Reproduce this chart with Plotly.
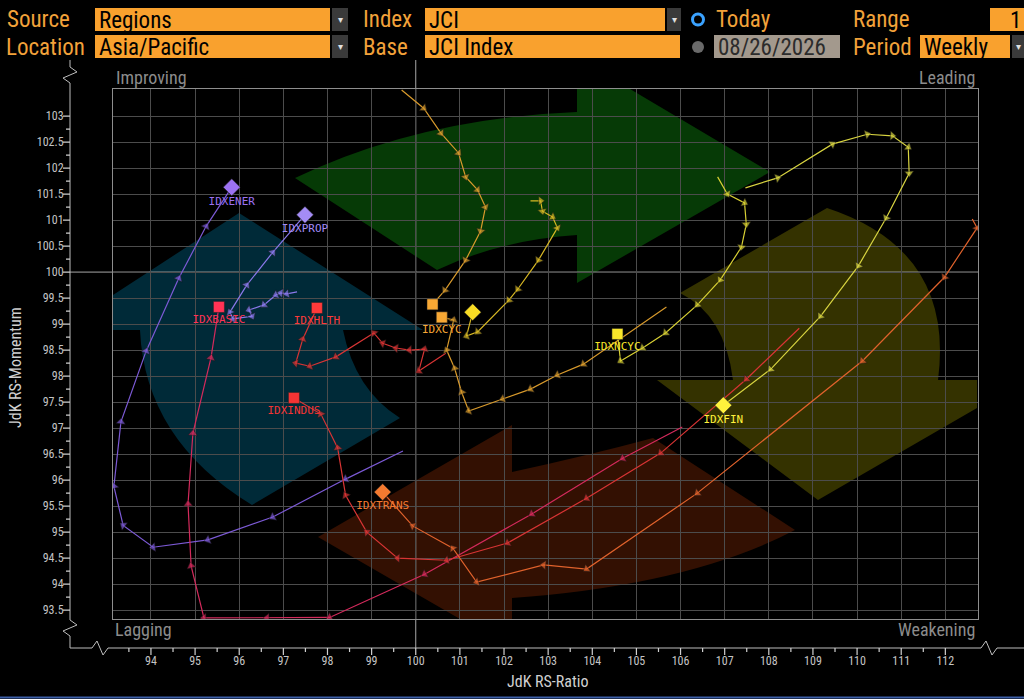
import plotly.graph_objects as go

# ---------------- data ----------------
X_TICKS = [94, 95, 96, 97, 98, 99, 100, 101, 102, 103, 104, 105, 106, 107, 108, 109, 110, 111, 112]
Y_TICKS = [93.5, 94.0, 94.5, 95.0, 95.5, 96.0, 96.5, 97.0, 97.5, 98.0, 98.5, 99.0,
           99.5, 100.0, 100.5, 101.0, 101.5, 102.0, 102.5, 103.0]
Y_TICK_TEXT = ["93.5", "94", "94.5", "95", "95.5", "96", "96.5", "97", "97.5", "98", "98.5", "99",
               "99.5", "100", "100.5", "101", "101.5", "102", "102.5", "103"]
X_RANGE = [93.14, 112.74]
Y_RANGE = [93.33, 103.52]

ENER_X = [99.71, 98.41, 96.76, 95.29, 94.05, 93.37, 93.16, 93.32, 93.89, 94.63, 95.25, 95.83]
ENER_Y = [96.56, 96.02, 95.29, 94.85, 94.71, 95.13, 95.88, 97.12, 98.48, 99.88, 100.88, 101.63]

PROP_X = [97.31, 97.08, 96.94, 96.83, 96.56, 96.22, 96.29, 95.86, 95.79, 96.17, 96.76, 97.49]
PROP_Y = [99.62, 99.58, 99.60, 99.56, 99.37, 99.27, 99.15, 99.10, 99.23, 99.75, 100.38, 101.10]

BASIC_X = [106.04, 104.69, 102.63, 100.20, 98.05, 96.63, 95.20, 94.91, 94.84, 94.95, 95.36, 95.54]
BASIC_Y = [97.02, 96.42, 95.35, 94.19, 93.36, 93.35, 93.35, 94.35, 95.54, 96.90, 98.35, 99.33]

HLTH_X = [100.68, 100.07, 100.20, 99.86, 99.55, 99.25, 99.05, 98.19, 97.60, 97.28, 97.44, 97.76]
HLTH_Y = [98.44, 98.10, 98.52, 98.50, 98.54, 98.63, 98.83, 98.37, 98.19, 98.25, 98.71, 99.31]

INDUS_X = [108.69, 107.49, 105.55, 103.87, 102.08, 100.70, 99.59, 98.89, 98.41, 98.23, 97.85, 97.24]
INDUS_Y = [98.92, 97.94, 96.52, 95.65, 94.79, 94.46, 94.50, 95.00, 95.71, 96.62, 97.27, 97.58]

TRANS_X = [112.61, 112.72, 111.98, 110.12, 106.38, 103.87, 102.90, 101.38, 100.84, 99.93, 99.25]
TRANS_Y = [101.02, 100.85, 99.90, 98.29, 95.75, 94.29, 94.37, 94.04, 94.69, 95.12, 95.77]

FIN_X = [107.47, 108.20, 109.44, 110.23, 110.80, 111.16, 111.18, 110.66, 110.03, 109.17, 108.04, 106.97]
FIN_Y = [101.62, 101.81, 102.46, 102.65, 102.62, 102.40, 101.90, 101.04, 100.12, 99.15, 98.13, 97.44]

NCYC_X = [106.84, 107.06, 107.45, 107.49, 107.38, 106.90, 106.38, 105.66, 105.14, 104.64, 104.57]
NCYC_Y = [101.83, 101.50, 101.33, 100.92, 100.48, 99.85, 99.37, 98.83, 98.54, 98.29, 98.81]

CYC_X = [105.68, 103.80, 103.21, 102.60, 101.97, 101.20, 101.04, 100.88, 100.70, 100.86, 100.59]
CYC_Y = [99.33, 98.23, 98.02, 97.75, 97.56, 97.33, 97.69, 98.15, 98.50, 99.08, 99.13]

INFRA_X = [99.68, 100.18, 100.57, 100.97, 101.13, 101.40, 101.58, 101.47, 101.13, 100.66, 100.38]
INFRA_Y = [103.50, 103.15, 102.67, 102.29, 101.83, 101.58, 101.25, 100.79, 100.23, 99.65, 99.38]

TECH_X = [102.60, 102.83, 102.87, 103.10, 103.21, 102.78, 102.31, 102.11, 101.40, 101.15, 101.29]
TECH_Y = [101.37, 101.37, 101.17, 101.06, 100.85, 100.23, 99.67, 99.46, 98.85, 98.77, 99.23]

# name, x, y, line colour, end colour, end symbol, show label
SERIES = [
    ("IDXENER", ENER_X, ENER_Y, "#7c5ad6", "#9c72f2", "diamond", True),
    ("IDXPROP", PROP_X, PROP_Y, "#8a78ea", "#a48cf6", "diamond", True),
    ("IDXBASIC", BASIC_X, BASIC_Y, "#d42a5c", "#ff3355", "square", True),
    ("IDXHLTH", HLTH_X, HLTH_Y, "#d83434", "#ff3a3a", "square", True),
    ("IDXINDUS", INDUS_X, INDUS_Y, "#d83434", "#f43434", "square", True),
    ("IDXTRANS", TRANS_X, TRANS_Y, "#e0622c", "#f47a30", "diamond", True),
    ("IDXINFRA", INFRA_X, INFRA_Y, "#d89a2c", "#f8a834", "square", False),
    ("IDXCYC", CYC_X, CYC_Y, "#d89a2c", "#f8a834", "square", True),
    ("IDXTECH", TECH_X, TECH_Y, "#d8b824", "#f8dc24", "diamond", False),
    ("IDXNCYC", NCYC_X, NCYC_Y, "#d8d034", "#f8e62a", "square", True),
    ("IDXFIN", FIN_X, FIN_Y, "#d8d440", "#fff23c", "diamond", True),
]

# ---------------- geometry helpers (decoration only) ----------------
W_PX, H_PX = 1024, 699
PL, PT, PW, PH = 113, 89, 865, 530


def px(x):
    return (x - PL) / PW


def py(y):
    return (PT + PH - y) / PH


def pt(x, y):
    return f"{px(x):.5f},{py(y):.5f}"


NARROW = "Liberation Sans Narrow, Roboto Condensed, DejaVu Sans Condensed, sans-serif"
MONO = "DejaVu Sans Mono, monospace"
ORANGE_FIELD = "#f9a12e"
ORANGE_TEXT = "#f2a23a"

fig = go.Figure()

# ---------------- trails ----------------
for name, xs, ys, lc, ec, sym, show in SERIES:
    n = len(xs)
    fig.add_trace(go.Scatter(
        x=xs, y=ys, mode="lines+markers", name=name, showlegend=False,
        line=dict(color=lc, width=1.2),
        marker=dict(symbol="triangle-up", angleref="previous",
                    size=[8] * (n - 1) + [0], color=lc,
                    line=dict(color="#1a1a1a", width=0.6)),
        hoverinfo="skip"))
for name, xs, ys, lc, ec, sym, show in SERIES:
    fig.add_trace(go.Scatter(
        x=[xs[-1]], y=[ys[-1]], mode="markers+text" if show else "markers",
        text=[name] if show else None, textposition="bottom center",
        textfont=dict(family=MONO, size=11, color=ec),
        marker=dict(symbol=sym, size=13 if sym == "diamond" else 11, color=ec,
                    line=dict(color="#222", width=0.5)),
        showlegend=False, hoverinfo="skip"))

shapes = []

# ---------------- rotating arrows ----------------
green = (f"M{pt(295,178)} Q{pt(420,118)} {pt(577,112)} L{pt(577,89)} L{pt(630,89)} "
         f"L{pt(770,172)} L{pt(577,283)} L{pt(577,235)} Q{pt(500,240)} {pt(437,270)} Z")
yellow = (f"M{pt(680,293)} L{pt(827,208)} Q{pt(955,250)} {pt(938,380)} L{pt(977,380)} "
          f"L{pt(977,408)} L{pt(818,500)} L{pt(657,380)} L{pt(733,380)} Q{pt(725,315)} {pt(680,293)} Z")
orange = (f"M{pt(512,472)} Q{pt(590,455)} {pt(653,438)} L{pt(795,530)} Q{pt(690,585)} {pt(512,598)} "
          f"L{pt(512,619)} L{pt(460,619)} L{pt(318,537)} L{pt(512,425)} Z")
blue = (f"M{pt(113,295)} L{pt(239,213)} L{pt(423,330)} L{pt(343,330)} Q{pt(355,390)} {pt(400,418)} "
        f"L{pt(252,505)} Q{pt(145,440)} {pt(140,330)} L{pt(113,330)} Z")
for pth, col in [(green, "#063a06"), (yellow, "#343200"), (orange, "#331002"), (blue, "#002a38")]:
    shapes.append(dict(type="path", path=pth, xref="paper", yref="paper",
                       fillcolor=col, line=dict(width=0), layer="below"))

# ---------------- centre lines ----------------
shapes.append(dict(type="line", xref="x", yref="paper", x0=100, x1=100, y0=py(648), y1=py(60),
                   line=dict(color="#a8a8a8", width=1), layer="below"))
shapes.append(dict(type="line", xref="paper", yref="y", x0=px(70), x1=1, y0=100, y1=100,
                   line=dict(color="#a8a8a8", width=1), layer="below"))

# ---------------- broken axis lines ----------------
axis_path = (f"M{pt(70,60)} L{pt(70,67)} L{pt(77,72)} L{pt(63,78)} L{pt(70,83)} L{pt(70,620)} "
             f"L{pt(77,625)} L{pt(63,631)} L{pt(70,636)} L{pt(70,648)} L{pt(92,648)} L{pt(97,641)} "
             f"L{pt(103,655)} L{pt(108,648)} L{pt(981,648)} L{pt(986,641)} L{pt(992,655)} "
             f"L{pt(997,648)} L{pt(1024,648)}")
shapes.append(dict(type="path", path=axis_path, xref="paper", yref="paper",
                   line=dict(color="#bdbdbd", width=1)))

ytick_path = ""
for v in Y_TICKS:
    ytick_path += f"M{px(63):.5f},{v} L{px(70):.5f},{v} "
    if v < Y_TICKS[-1]:
        ytick_path += f"M{px(66):.5f},{v + 0.25} L{px(70):.5f},{v + 0.25} "
shapes.append(dict(type="path", path=ytick_path, xref="paper", yref="y",
                   line=dict(color="#d0d0d0", width=1.2)))
xtick_path = ""
for v in X_TICKS:
    xtick_path += f"M{v},{py(648):.5f} L{v},{py(655):.5f} "
    xtick_path += f"M{v - 0.5},{py(648):.5f} L{v - 0.5},{py(652):.5f} "
shapes.append(dict(type="path", path=xtick_path, xref="x", yref="paper",
                   line=dict(color="#d0d0d0", width=1.2)))

# bottom screen border
shapes.append(dict(type="line", xref="paper", yref="paper", x0=px(0), x1=px(1024), y0=py(697.5), y1=py(697.5),
                   line=dict(color="#3c5fa8", width=2)))

annotations = []


def txt(s, x, y, color, size, xanchor="left", family=NARROW, **kw):
    annotations.append(dict(text=s, x=px(x), y=py(y), xref="paper", yref="paper", showarrow=False,
                            xanchor=xanchor, yanchor="middle",
                            font=dict(family=family, size=size, color=color), **kw))


def field(x0, y0, x1, y1, color, label=None, tcolor="#000000", tx=None):
    shapes.append(dict(type="rect", xref="paper", yref="paper", x0=px(x0), x1=px(x1), y0=py(y1), y1=py(y0),
                       fillcolor=color, line=dict(width=0)))
    if label:
        txt(label, (x0 + 2) if tx is None else tx, (y0 + y1) / 2 + 1, tcolor, 23)


def dropdown(x0, y0, x1, y1):
    shapes.append(dict(type="rect", xref="paper", yref="paper", x0=px(x0), x1=px(x1), y0=py(y1), y1=py(y0),
                       fillcolor="#3a3a3a", line=dict(width=0)))
    txt("▾", (x0 + x1) / 2, (y0 + y1) / 2, "#e0e0e0", 10, xanchor="center", family="DejaVu Sans")


# ---------------- header ----------------
HS = 23
txt("Source", 5, 20, ORANGE_TEXT, HS)
txt("Location", 4, 47, ORANGE_TEXT, HS)
field(95, 8, 330, 31, ORANGE_FIELD, "Regions")
dropdown(332, 8, 348, 31)
field(95, 35, 330, 58, ORANGE_FIELD, "Asia/Pacific")
dropdown(332, 35, 348, 58)
txt("Index", 361, 20, ORANGE_TEXT, HS)
txt("Base", 361, 47, ORANGE_TEXT, HS)
field(425, 8, 665, 31, ORANGE_FIELD, "JCI")
dropdown(667, 8, 681, 31)
field(425, 35, 680, 58, ORANGE_FIELD, "JCI Index")
shapes.append(dict(type="circle", xref="paper", yref="paper", x0=px(692.5), x1=px(703.5), y0=py(25), y1=py(14),
                   fillcolor="#000000", line=dict(color="#3aa2ff", width=3)))
shapes.append(dict(type="circle", xref="paper", yref="paper", x0=px(692), x1=px(704), y0=py(53), y1=py(41),
                   fillcolor="#6a6a6a", line=dict(width=0)))
txt("Today", 714, 20, ORANGE_TEXT, HS)
field(714, 35, 840, 58, "#a3998d", "08/26/2026", tcolor="#2c2c2c")
txt("Range", 851, 20, ORANGE_TEXT, HS)
txt("Period", 851, 47, ORANGE_TEXT, HS)
field(990, 8, 1024, 31, ORANGE_FIELD, "1", tx=1008)
field(920, 35, 1010, 58, ORANGE_FIELD, "Weekly")
dropdown(1012, 35, 1024, 58)

# ---------------- quadrant labels / titles ----------------
txt("Improving", 114, 77, "#8c8c8c", 18)
txt("Leading", 977, 77, "#8c8c8c", 18, xanchor="right")
txt("Lagging", 113, 629, "#8c8c8c", 18)
txt("Weakening", 977, 629, "#8c8c8c", 18, xanchor="right")
txt("JdK RS-Ratio", 547, 681, "#d0d0d0", 16, xanchor="center")
txt("JdK RS-Momentum", 15, 368, "#d0d0d0", 16, xanchor="center", textangle=-90)

fig.update_layout(
    width=W_PX, height=H_PX, autosize=False,
    margin=dict(l=PL, r=W_PX - PL - PW, t=PT, b=H_PX - PT - PH, pad=0),
    paper_bgcolor="#000000", plot_bgcolor="rgba(0,0,0,0)",
    shapes=shapes, annotations=annotations, showlegend=False,
    xaxis=dict(range=X_RANGE, tickvals=X_TICKS, ticktext=[str(v) for v in X_TICKS],
               showgrid=True, gridcolor="#4c4c4c", gridwidth=1, zeroline=False,
               showline=True, mirror=True, linecolor="#8e8e8e", linewidth=1,
               ticks="", ticklabelstandoff=31, automargin=False, fixedrange=True,
               tickfont=dict(family=NARROW, size=12, color="#c4c4c4")),
    yaxis=dict(range=Y_RANGE, tickvals=Y_TICKS, ticktext=Y_TICK_TEXT,
               showgrid=True, gridcolor="#4c4c4c", gridwidth=1, zeroline=False,
               showline=True, mirror=True, linecolor="#8e8e8e", linewidth=1,
               ticks="", ticklabelstandoff=46, automargin=False, fixedrange=True,
               tickfont=dict(family=NARROW, size=12, color="#c4c4c4")),
)

fig.write_html(
    "out.html",
    config={"displayModeBar": False},
    post_script="document.body.style.margin='0';document.body.style.background='#000';"
                "document.documentElement.style.overflow='hidden';",
)
